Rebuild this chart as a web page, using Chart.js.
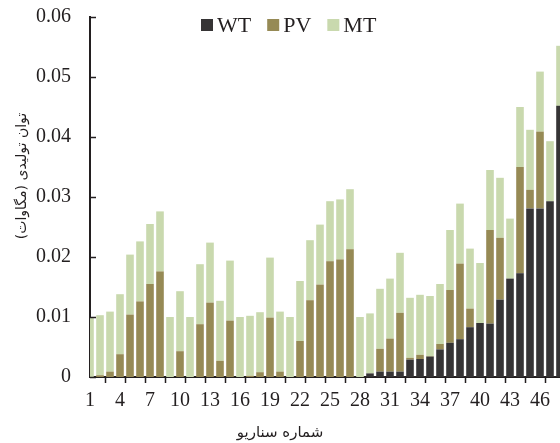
<!DOCTYPE html>
<html lang="fa">
<head>
  <meta charset="UTF-8">
  <title>Scenario generation</title>
  <script src="https://cdn.jsdelivr.net/npm/chart.js"></script>
  <style>
    html, body { margin: 0; padding: 0; background: #fff; }
    #wrap { width: 560px; height: 443px; }
  </style>
</head>
<body>
  <div id="wrap"><canvas id="genChart" width="560" height="443"></canvas></div>

  <script>
    const scenarios = ['1','2','3','4','5','6','7','8','9','10','11','12','13','14','15','16',
      '17','18','19','20','21','22','23','24','25','26','27','28','29','30','31','32',
      '33','34','35','36','37','38','39','40','41','42','43','44','45','46','47','48'];

    const wt = [0, 0, 0, 0, 0, 0, 0, 0, 0, 0,
      0, 0, 0, 0, 0, 0, 0, 0, 0, 0,
      0, 0, 0, 0, 0, 0, 0, 0, 0.0006, 0.0009,
      0.0009, 0.0009, 0.0029, 0.0030, 0.0034, 0.0046, 0.0057, 0.0063, 0.0083, 0.0090,
      0.0089, 0.0129, 0.0164, 0.0173, 0.0281, 0.0281, 0.0293, 0.0452];

    const pv = [0, 0.0003, 0.0009, 0.0038, 0.0104, 0.0126, 0.0155, 0.0176, 0, 0.0043,
      0, 0.0088, 0.0124, 0.0027, 0.0094, 0, 0.0002, 0.0008, 0.0099, 0.0009,
      0, 0.0060, 0.0128, 0.0154, 0.0193, 0.0196, 0.0213, 0, 0, 0.0038,
      0.0055, 0.0098, 0.0003, 0.0007, 0.0001, 0.0009, 0.0088, 0.0126, 0.0031, 0,
      0.0156, 0.0103, 0, 0.0177, 0.0031, 0.0128, 0, 0];

    const mt = [0.01, 0.01, 0.01, 0.01, 0.01, 0.01, 0.01, 0.01, 0.01, 0.01,
      0.01, 0.01, 0.01, 0.01, 0.01, 0.01, 0.01, 0.01, 0.01, 0.01,
      0.01, 0.01, 0.01, 0.01, 0.01, 0.01, 0.01, 0.01, 0.01, 0.01,
      0.01, 0.01, 0.01, 0.01, 0.01, 0.01, 0.01, 0.01, 0.01, 0.01,
      0.01, 0.01, 0.01, 0.01, 0.01, 0.01, 0.01, 0.01];

    const yTicks = [0, 0.01, 0.02, 0.03, 0.04, 0.05, 0.06];

    const RLM = '\u200F';
    const xTitle = 'شماره سناریو' + RLM;
    const yTitle = 'توان تولیدی (مگاوات)' + RLM;
    const serif = '"Liberation Serif", "Times New Roman", serif';
    const persian = '"DejaVu Sans", sans-serif';
    const axisColor = '#231f20';

    // legend inside the plot, inward y tick marks and the two axis titles
    const extras = {
      id: 'extras',
      afterDraw(chart) {
        const ctx = chart.ctx;
        const y = chart.scales.y;
        const area = chart.chartArea;
        ctx.save();
        ctx.strokeStyle = axisColor;
        ctx.lineWidth = 1.5;
        yTicks.forEach(v => {
          const py = Math.round(y.getPixelForValue(v)) + 0.5;
          ctx.beginPath();
          ctx.moveTo(area.left, py);
          ctx.lineTo(area.left + 6, py);
          ctx.stroke();
        });

        ctx.font = '22px ' + serif;
        ctx.textBaseline = 'middle';
        let x = 201;
        const ly = 25;
        chart.data.datasets.forEach(ds => {
          ctx.fillStyle = ds.backgroundColor;
          ctx.fillRect(x, ly - 6, 12, 12);
          ctx.fillStyle = axisColor;
          ctx.fillText(ds.label, x + 16, ly + 1);
          x += 16 + ctx.measureText(ds.label).width + 16;
        });

        ctx.fillStyle = axisColor;
        ctx.textAlign = 'center';
        ctx.font = '15px ' + persian;
        ctx.fillText(xTitle, 280, 433);

        ctx.translate(22, 176);
        ctx.rotate(-Math.PI / 2);
        ctx.font = '14px ' + persian;
        ctx.fillText(yTitle, 0, 0);
        ctx.restore();
      }
    };

    const ctx = document.getElementById('genChart').getContext('2d');
    const chart = new Chart(ctx, {
      type: 'bar',
      data: {
        labels: scenarios,
        datasets: [
          { label: 'WT', data: wt, backgroundColor: '#363435', clip: 0 },
          { label: 'PV', data: pv, backgroundColor: '#968a55', clip: 0 },
          { label: 'MT', data: mt, backgroundColor: '#c9d9ae', clip: 0 }
        ]
      },
      options: {
        responsive: false,
        animation: false,
        layout: { padding: { top: 17, right: 0, left: 0, bottom: 0 } },
        datasets: {
          bar: { categoryPercentage: 1, barPercentage: 0.76 }
        },
        plugins: {
          legend: { display: false },
          tooltip: { enabled: false }
        },
        scales: {
          x: {
            stacked: true,
            offset: false,
            z: 1,
            border: { display: true, color: axisColor, width: 2 },
            grid: {
              drawOnChartArea: false,
              drawTicks: true,
              tickLength: 6,
              tickWidth: 1.5,
              color: c => (c.index % 2 === 0 ? axisColor : 'rgba(0,0,0,0)')
            },
            ticks: {
              autoSkip: false,
              maxRotation: 0,
              minRotation: 0,
              padding: 6,
              color: axisColor,
              font: { family: serif, size: 20 },
              callback: (v, i) => (i % 3 === 0 ? scenarios[i] : '')
            },
            afterFit: s => {
              s.height = 66;
              s.paddingLeft = 0;
              s.paddingRight = 0;
            }
          },
          y: {
            stacked: true,
            min: 0,
            max: 0.06,
            z: 1,
            border: { display: true, color: axisColor, width: 2 },
            grid: { display: false },
            afterBuildTicks: s => { s.ticks = yTicks.map(v => ({ value: v })); },
            ticks: {
              padding: 11,
              color: axisColor,
              font: { family: serif, size: 20 },
              callback: v => (v === 0 ? '0' : v.toFixed(2))
            },
            afterFit: s => {
              s.width = 90;
              s.paddingTop = 0;
              s.paddingBottom = 0;
            }
          }
        }
      },
      plugins: [extras]
    });
  </script>
</body>
</html>
